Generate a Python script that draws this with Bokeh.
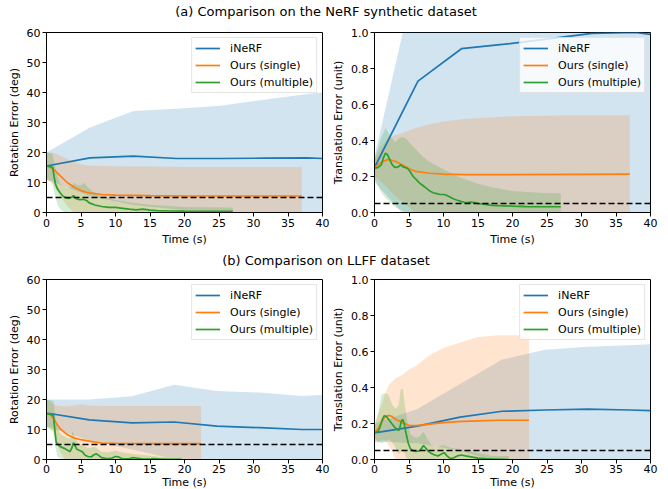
from bokeh.plotting import figure
from bokeh.models import Range1d, FixedTicker, PrintfTickFormatter, Span, Div
from bokeh.layouts import column, row
from bokeh.embed import file_html
from bokeh.resources import INLINE

# ---------------- data ----------------
x_ticks = [0, 5, 10, 15, 20, 25, 30, 35, 40]
rot_ticks = [0, 10, 20, 30, 40, 50, 60]
trans_ticks = [0.0, 0.2, 0.4, 0.6, 0.8, 1.0]
rot_threshold = 5
trans_threshold = 0.05
series_names = ["iNeRF", "Ours (single)", "Ours (multiple)"]

# (a) NeRF synthetic - rotation
a_rot_inerf_t = [0, 6.3, 12.6, 18.9, 25.2, 31.5, 37.8, 40]
a_rot_inerf_mean = [15.5, 18.2, 18.8, 18.0, 18.0, 18.1, 18.2, 18.0]
a_rot_inerf_hi = [20.0, 28.3, 33.8, 34.6, 35.6, 37.6, 39.5, 40.0]
a_rot_inerf_lo = [11.0, 5.5, 2.5, 1.0, 0.0, -1.0, -2.5, -3.0]

a_rot_single_t = [0, 1, 2, 3, 4, 5, 6, 8, 10, 15, 20, 25, 30, 37]
a_rot_single_mean = [15.5, 14.5, 12.2, 10.0, 8.4, 7.3, 6.6, 6.0, 5.8, 5.6, 5.5, 5.5, 5.5, 5.5]
a_rot_single_hi = [20.0, 19.8, 19.0, 17.8, 16.8, 16.0, 15.7, 15.5, 15.4, 15.3, 15.2, 15.2, 15.2, 15.2]
a_rot_single_lo = [11.0, 9.2, 5.4, 2.2, 0.0, -1.4, -2.5, -3.5, -3.8, -4.1, -4.2, -4.2, -4.2, -4.2]

a_rot_multi_t = [0, 0.5, 0.9, 1.1, 1.3, 1.6, 2.0, 2.4, 2.8, 3.2, 3.6, 3.9, 4.3, 4.8, 5.3, 5.8,
                 6.2, 7.0, 8.0, 9.0, 10.0, 11.0, 12.0, 13.0, 14.0, 15.0, 16.0, 18.0, 20.0, 23.0, 27.0]
a_rot_multi_mean = [15.5, 15.4, 15.0, 12.0, 9.5, 7.8, 6.5, 5.4, 4.9, 4.7, 5.0, 5.6, 4.6, 4.3, 4.4, 4.0,
                    3.2, 2.5, 2.0, 1.7, 1.7, 1.4, 1.1, 0.9, 1.1, 0.8, 0.6, 0.5, 0.45, 0.4, 0.35]
a_rot_multi_band_t = [0, 0.8, 1.2, 1.6, 2.0, 3.0, 3.5, 4.0, 4.5, 5.0, 5.5, 6.0, 7.0, 8.0, 10.0, 12.0, 15.0, 20.0, 27.0]
a_rot_multi_hi = [20.0, 19.8, 16.0, 12.0, 9.5, 8.2, 8.5, 10.0, 9.0, 9.2, 9.8, 8.3, 6.5, 5.3, 4.2, 3.4, 2.6, 1.8, 1.7]
a_rot_multi_lo = [11.0, 10.5, 6.0, 2.5, 1.0, -0.5, -0.8, -1.0, -1.0, -1.0, -1.0, -1.0, -1.0, -1.0, -1.0, -1.0, -1.0, -1.0, -1.0]

# (a) NeRF synthetic - translation
a_tr_inerf_t = [0, 6.3, 12.6, 18.9, 25.2, 31.5, 37.8, 40]
a_tr_inerf_mean = [0.25, 0.73, 0.91, 0.935, 0.965, 0.995, 1.0, 0.99]
a_tr_inerf_hi = [0.31, 1.37, 1.6, 1.65, 1.7, 1.75, 1.8, 1.8]
a_tr_inerf_lo = [0.17, -0.1, -0.2, -0.25, -0.3, -0.3, -0.3, -0.3]

a_tr_single_t = [0, 1, 2, 3, 4, 5, 6, 8, 10, 13, 20, 30, 37]
a_tr_single_mean = [0.25, 0.28, 0.295, 0.285, 0.265, 0.243, 0.228, 0.218, 0.213, 0.21, 0.21, 0.212, 0.213]
a_tr_single_hi = [0.30, 0.37, 0.41, 0.43, 0.44, 0.455, 0.47, 0.49, 0.505, 0.52, 0.535, 0.54, 0.54]
a_tr_single_lo = [0.20, 0.17, 0.13, 0.09, 0.06, 0.03, -0.01, -0.05, -0.08, -0.1, -0.115, -0.116, -0.114]

a_tr_multi_t = [0, 0.5, 1.0, 1.3, 1.6, 1.9, 2.2, 2.5, 2.8, 3.1, 3.5, 3.8, 4.1, 4.4, 4.8, 5.2, 5.6,
                6.0, 6.5, 7.0, 7.5, 8.0, 8.5, 9.0, 9.5, 10.0, 10.5, 11.0, 11.5, 12.0, 12.5, 13.0,
                13.5, 14.0, 14.5, 15.0, 16.0, 17.0, 18.0, 20.0, 22.0, 24.0, 27.0]
a_tr_multi_mean = [0.245, 0.25, 0.265, 0.305, 0.33, 0.32, 0.295, 0.27, 0.255, 0.25, 0.255, 0.265, 0.255,
                   0.25, 0.245, 0.225, 0.2, 0.185, 0.165, 0.15, 0.135, 0.12, 0.11, 0.105, 0.1, 0.1,
                   0.095, 0.085, 0.075, 0.068, 0.062, 0.057, 0.055, 0.058, 0.055, 0.05, 0.045, 0.04,
                   0.038, 0.035, 0.033, 0.032, 0.032]
a_tr_multi_band_t = [0, 1.0, 1.6, 2.2, 3.0, 3.5, 4.0, 4.6, 5.2, 6.0, 7.0, 8.0, 9.0, 10.0, 12.0, 13.5,
                     15.0, 17.0, 20.0, 24.0, 27.0]
a_tr_multi_hi = [0.30, 0.42, 0.47, 0.43, 0.39, 0.41, 0.42, 0.41, 0.38, 0.35, 0.31, 0.28, 0.26, 0.24,
                 0.2, 0.18, 0.16, 0.14, 0.12, 0.11, 0.105]
a_tr_multi_lo = [0.19, 0.11, 0.08, 0.06, 0.03, 0.02, 0.01, 0.0, -0.02, -0.03, -0.04, -0.05, -0.05,
                 -0.05, -0.06, -0.07, -0.06, -0.06, -0.05, -0.05, -0.04]

# (b) LLFF - rotation
b_rot_inerf_t = [0, 6.2, 12.4, 18.5, 24.7, 30.9, 37.0, 40]
b_rot_inerf_mean = [15.5, 13.2, 12.2, 12.5, 11.1, 10.6, 10.0, 10.0]
b_rot_inerf_hi = [20.0, 20.0, 21.1, 24.9, 22.8, 22.3, 21.2, 21.5]
b_rot_inerf_lo = [11.0, 6.4, 3.3, 0.1, -0.6, -1.1, -1.2, -1.5]

b_rot_single_t = [0, 0.5, 1.0, 1.5, 2.0, 3.0, 4.0, 5.0, 6.0, 7.0, 8.0, 10.0, 15.0, 22.4]
b_rot_single_mean = [15.5, 15.0, 13.8, 11.8, 10.2, 8.3, 7.2, 6.6, 6.2, 5.8, 5.5, 5.4, 5.3, 5.3]
b_rot_single_hi = [20.0, 19.3, 18.5, 18.0, 17.8, 17.7, 18.0, 18.4, 18.0, 17.9, 17.8, 17.8, 17.8, 17.8]
b_rot_single_lo = [11.0, 10.7, 9.1, 5.6, 2.6, -1.1, -3.6, -5.2, -5.6, -6.3, -6.8, -7.0, -7.2, -7.2]

b_rot_multi_t = [0, 0.6, 1.0, 1.2, 1.4, 1.7, 2.0, 2.5, 3.0, 3.4, 3.7, 3.9, 4.1, 4.4, 4.8, 5.2, 5.6,
                 6.0, 6.5, 6.9, 7.2, 7.6, 8.0, 8.5, 9.0, 9.5, 10.0, 10.4, 10.8, 11.2, 12.0, 12.5,
                 13.0, 13.5, 14.0, 15.0, 15.5, 16.0, 16.5, 17.0, 18.0, 19.6]
b_rot_multi_mean = [15.2, 15.0, 14.6, 10.0, 5.8, 4.8, 4.3, 3.8, 3.2, 2.6, 4.0, 5.6, 4.8, 3.4, 3.0,
                    2.6, 1.4, 1.0, 0.9, 1.6, 1.9, 1.3, 0.6, 0.4, 0.3, 0.5, 1.0, 0.9, 0.4, 0.2, 0.3,
                    0.6, 0.5, 0.3, 0.1, 0.15, 0.3, 0.2, 0.1, 0.1, 0.05, 0.05]
b_rot_multi_band_t = [0, 1.0, 1.3, 1.6, 2.0, 3.0, 3.5, 3.8, 4.2, 4.6, 5.0, 6.0, 7.0, 7.5, 8.0, 9.0,
                      10.0, 11.0, 12.0, 14.0, 16.0, 18.0, 19.6]
b_rot_multi_hi = [20.0, 19.5, 14.0, 10.5, 8.5, 7.2, 7.0, 9.6, 7.0, 5.5, 5.0, 3.8, 4.2, 3.4, 2.5,
                  2.4, 3.0, 2.3, 2.0, 1.5, 1.0, 0.5, 0.3]
b_rot_multi_lo = [10.5, 9.5, 4.0, 1.0, 0.3, -0.5, -0.6, -0.5, -0.6, -0.7, -0.7, -0.7, -0.7, -0.7,
                  -0.7, -0.7, -0.7, -0.7, -0.7, -0.7, -0.7, -0.7, -0.7]

# (b) LLFF - translation
b_tr_inerf_t = [0, 6.2, 12.4, 18.5, 24.7, 30.9, 37.0, 40]
b_tr_inerf_mean = [0.148, 0.185, 0.235, 0.268, 0.275, 0.28, 0.275, 0.272]
b_tr_inerf_hi = [0.2, 0.28, 0.42, 0.555, 0.61, 0.627, 0.635, 0.64]
b_tr_inerf_lo = [0.1, 0.09, 0.05, -0.02, -0.06, -0.07, -0.085, -0.1]

b_tr_single_t = [0, 0.5, 1.0, 1.5, 2.0, 2.5, 3.0, 4.0, 5.0, 6.0, 8.0, 10.0, 12.0, 15.0, 18.0, 22.4]
b_tr_single_mean = [0.15, 0.17, 0.205, 0.235, 0.245, 0.24, 0.225, 0.205, 0.19, 0.188, 0.197, 0.205,
                    0.21, 0.215, 0.218, 0.218]
b_tr_single_hi = [0.2, 0.25, 0.3, 0.36, 0.41, 0.43, 0.45, 0.47, 0.5, 0.52, 0.58, 0.62, 0.645, 0.68, 0.69, 0.69]
b_tr_single_lo = [0.1, 0.09, 0.11, 0.11, 0.08, 0.05, 0.0, -0.06, -0.12, -0.14, -0.19, -0.21, -0.225,
                  -0.25, -0.254, -0.254]

b_tr_multi_t = [0, 0.5, 0.8, 1.1, 1.4, 1.7, 2.0, 2.3, 2.6, 2.9, 3.2, 3.5, 3.7, 3.9, 4.1, 4.3, 4.6,
                4.9, 5.2, 5.6, 6.0, 6.5, 6.8, 7.1, 7.4, 7.8, 8.2, 8.7, 9.2, 9.7, 10.1, 10.5, 11.0,
                11.5, 12.0, 12.6, 13.2, 14.0, 15.0, 16.0, 17.0, 18.0, 19.5]
b_tr_multi_mean = [0.15, 0.155, 0.18, 0.22, 0.243, 0.24, 0.225, 0.21, 0.195, 0.18, 0.17, 0.16, 0.18,
                   0.215, 0.222, 0.2, 0.14, 0.09, 0.06, 0.048, 0.045, 0.048, 0.06, 0.078, 0.065,
                   0.045, 0.035, 0.025, 0.02, 0.03, 0.038, 0.02, 0.005, 0.01, 0.02, 0.025, 0.02,
                   0.015, 0.008, 0.005, 0.003, 0.002, 0.0]
b_tr_multi_band_t = [0, 0.5, 1.0, 1.5, 2.0, 2.5, 3.0, 3.5, 3.8, 4.1, 4.4, 4.8, 5.2, 6.0, 6.6, 7.1,
                     7.6, 8.2, 9.0, 10.0, 11.0, 12.0, 13.0, 14.0, 15.0, 16.0, 17.0, 19.5]
b_tr_multi_hi = [0.18, 0.25, 0.36, 0.37, 0.36, 0.31, 0.28, 0.3, 0.39, 0.395, 0.3, 0.2, 0.14, 0.12,
                 0.13, 0.155, 0.12, 0.08, 0.07, 0.08, 0.065, 0.06, 0.05, 0.045, 0.035, 0.03, 0.02, 0.02]
b_tr_multi_lo = [0.12, 0.1, 0.09, 0.1, 0.11, 0.1, 0.07, 0.03, 0.04, 0.05, 0.03, -0.01, -0.02, -0.02,
                 -0.03, -0.02, -0.03, -0.03, -0.03, -0.03, -0.03, -0.03, -0.03, -0.03, -0.03, -0.03,
                 -0.03, -0.03]

# ---------------- styling ----------------
COLORS = ["#1f77b4", "#ff7f0e", "#2ca02c"]
FONT = "DejaVu Sans"


def make_panel(ylabel, ymax, yticks, yfmt, thresh, series, b_left, b_right, b_bottom, tight_x=False):
    p = figure(frame_width=276, frame_height=180, x_range=Range1d(0, 40), y_range=Range1d(0, ymax),
               output_backend="svg", toolbar_location=None,
               min_border_left=b_left, min_border_right=b_right,
               min_border_top=8, min_border_bottom=b_bottom)
    p.grid.visible = False
    p.outline_line_color = "black"
    p.outline_line_width = 1
    p.outline_line_alpha = 1
    p.background_fill_color = "white"
    p.border_fill_color = "white"
    for (color, s) in zip(COLORS, series):
        bt, lo, hi = s[2], s[3], s[4]
        p.varea(x=bt, y1=lo, y2=hi, fill_color=color, fill_alpha=0.2)
    for (name, color, s) in zip(series_names, COLORS, series):
        p.line(s[0], s[1], line_color=color, line_width=1.7, legend_label=name)
    p.add_layout(Span(location=thresh, dimension="width", line_color="black",
                      line_dash="6 3", line_width=1.5))
    p.xaxis.ticker = FixedTicker(ticks=x_ticks)
    p.yaxis.ticker = FixedTicker(ticks=yticks)
    p.yaxis.formatter = PrintfTickFormatter(format=yfmt)
    p.xaxis.axis_label = "Time (s)"
    p.yaxis.axis_label = ylabel
    for ax in (p.xaxis[0], p.yaxis[0]):
        ax.axis_line_color = "black"
        ax.major_tick_line_color = "black"
        ax.major_tick_out = 4
        ax.major_tick_in = 0
        ax.minor_tick_line_color = None
        ax.major_label_text_font = FONT
        ax.major_label_text_font_size = "11px"
        ax.major_label_text_color = "black"
        ax.axis_label_text_font = FONT
        ax.axis_label_text_font_size = "11px"
        ax.axis_label_text_font_style = "normal"
        ax.axis_label_text_color = "black"
        ax.major_label_standoff = 2
        ax.axis_label_standoff = 3
    if tight_x:
        p.xaxis[0].major_label_standoff = 1
        p.xaxis[0].axis_label_standoff = 0
    lg = p.legend[0]
    lg.location = "top_right"
    lg.label_text_font = FONT
    lg.label_text_font_size = "11px"
    lg.label_text_color = "black"
    lg.glyph_width = 25
    lg.glyph_height = 14
    lg.label_height = 14
    lg.label_standoff = 10
    lg.spacing = 3
    lg.padding = 3
    lg.margin = 5
    lg.border_line_color = "#cccccc"
    lg.background_fill_alpha = 0.8
    return p


def title_div(txt, h):
    return Div(text=txt, width=652, height=h, margin=0,
               styles={"font-family": FONT, "font-size": "13px", "text-align": "center",
                       "line-height": "%dpx" % h, "color": "black"})


sa_rot = [
    (a_rot_inerf_t, a_rot_inerf_mean, a_rot_inerf_t, a_rot_inerf_lo, a_rot_inerf_hi),
    (a_rot_single_t, a_rot_single_mean, a_rot_single_t, a_rot_single_lo, a_rot_single_hi),
    (a_rot_multi_t, a_rot_multi_mean, a_rot_multi_band_t, a_rot_multi_lo, a_rot_multi_hi),
]
sa_tr = [
    (a_tr_inerf_t, a_tr_inerf_mean, a_tr_inerf_t, a_tr_inerf_lo, a_tr_inerf_hi),
    (a_tr_single_t, a_tr_single_mean, a_tr_single_t, a_tr_single_lo, a_tr_single_hi),
    (a_tr_multi_t, a_tr_multi_mean, a_tr_multi_band_t, a_tr_multi_lo, a_tr_multi_hi),
]
sb_rot = [
    (b_rot_inerf_t, b_rot_inerf_mean, b_rot_inerf_t, b_rot_inerf_lo, b_rot_inerf_hi),
    (b_rot_single_t, b_rot_single_mean, b_rot_single_t, b_rot_single_lo, b_rot_single_hi),
    (b_rot_multi_t, b_rot_multi_mean, b_rot_multi_band_t, b_rot_multi_lo, b_rot_multi_hi),
]
sb_tr = [
    (b_tr_inerf_t, b_tr_inerf_mean, b_tr_inerf_t, b_tr_inerf_lo, b_tr_inerf_hi),
    (b_tr_single_t, b_tr_single_mean, b_tr_single_t, b_tr_single_lo, b_tr_single_hi),
    (b_tr_multi_t, b_tr_multi_mean, b_tr_multi_band_t, b_tr_multi_lo, b_tr_multi_hi),
]

p1 = make_panel("Rotation Error (deg)", 60, rot_ticks, "%d", rot_threshold, sa_rot, 46, 7, 38)
p2 = make_panel("Translation Error (unit)", 1.0, trans_ticks, "%.1f", trans_threshold, sa_tr, 45, 10, 38)
p3 = make_panel("Rotation Error (deg)", 60, rot_ticks, "%d", rot_threshold, sb_rot, 46, 7, 30, True)
p4 = make_panel("Translation Error (unit)", 1.0, trans_ticks, "%.1f", trans_threshold, sb_tr, 45, 10, 30, True)

layout = column(
    title_div("(a) Comparison on the NeRF synthetic dataset", 24),
    row(p1, p2, spacing=0),
    title_div("(b) Comparison on LLFF dataset", 21),
    row(p3, p4, spacing=0),
    spacing=0,
)

html = file_html(layout, INLINE, title="Comparison")
html = html.replace("<head>", "<head><style>html,body{overflow:hidden;}</style>", 1)
open("out.html", "w").write(html)
